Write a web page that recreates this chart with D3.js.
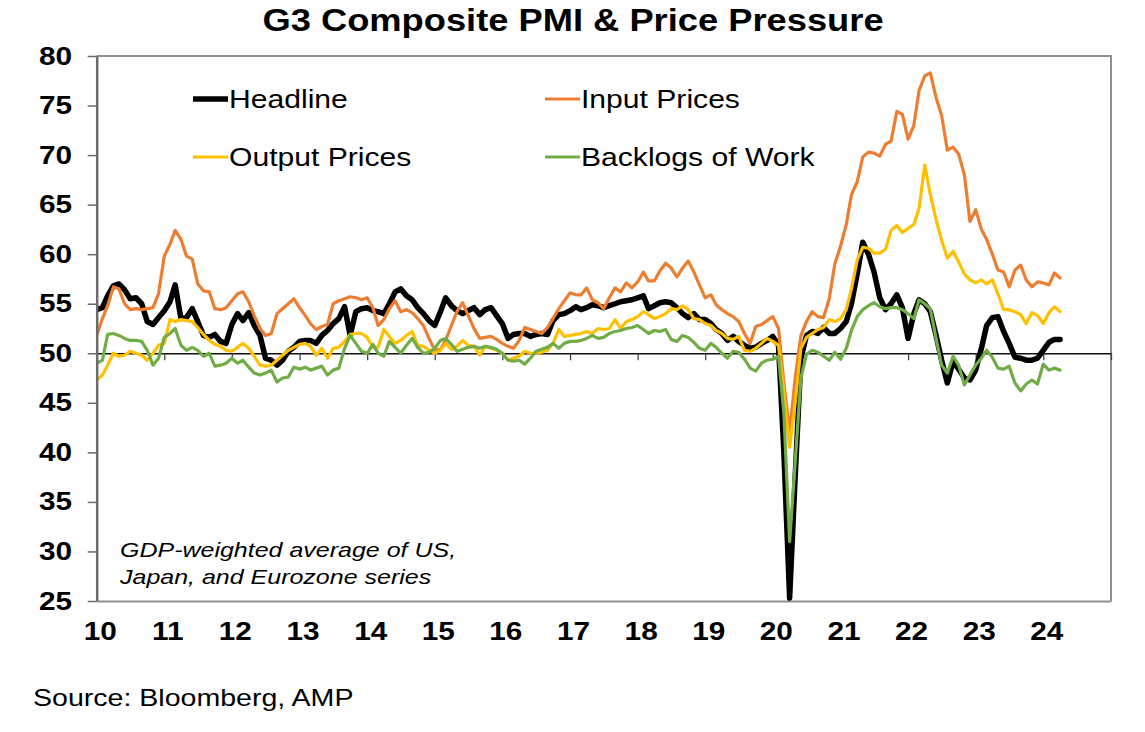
<html>
  <head>
    <meta charset="utf-8">
    <title>G3 Composite PMI &amp; Price Pressure</title>
    <script src="https://d3js.org/d3.v7.min.js" charset="utf-8"></script>
    <style>
      body { margin: 0; background: #fff; }
      text { font-family: "Liberation Sans", Arial, sans-serif; fill: #000; }
    </style>
  </head>
  <body>
    <script>
      // monthly readings, Jan 2010 - Apr 2024 (one row per year)
      var startYear = 2010;

      var headline = [
        54.4, 54.6, 55.8, 56.8, 57.0, 56.4, 55.5, 55.6, 55.0, 53.2, 52.9, 53.6,
        54.3, 55.2, 56.9, 53.5, 53.6, 54.5, 53.2, 51.8, 51.6, 51.9, 51.2, 51.0,
        52.9, 54.0, 53.3, 54.1, 52.8, 51.8, 49.5, 49.3, 48.8, 49.3, 50.2, 50.6,
        51.2, 51.3, 51.3, 51.0, 51.8, 52.3, 53.0, 53.5, 54.7, 51.8, 54.2, 54.5,
        54.6, 54.3, 54.2, 54.0, 55.0, 56.2, 56.5, 55.8, 55.4, 54.6, 54.0, 53.3,
        52.8, 54.2, 55.6, 54.8, 54.3, 54.0, 54.3, 54.6, 53.9, 54.4, 54.6, 53.8,
        53.0, 51.5, 51.9, 52.0, 52.0, 51.7, 51.9, 52.0, 51.9, 53.3, 53.9, 54.0,
        54.3, 54.7, 54.4, 54.6, 54.9, 54.8, 54.6, 54.8, 55.0, 55.2, 55.3, 55.4,
        55.6, 55.8, 54.5, 54.8, 55.1, 55.2, 55.1, 54.6, 54.0, 53.6, 54.0, 53.4,
        53.4, 53.0, 52.4, 52.0, 51.3, 51.7, 51.2, 50.8, 50.5, 50.6, 51.0, 51.3,
        51.7, 50.8, 40.0, 25.3, 37.5, 49.5, 51.8, 52.2, 52.0, 52.6, 52.0, 52.0,
        52.5, 53.2, 55.0, 58.0, 61.2, 60.0, 58.2, 55.6, 54.4, 55.0, 55.9, 54.6,
        51.5, 54.0, 55.4, 55.0, 54.2, 51.8, 49.3, 47.0, 49.2, 48.4, 47.5, 47.3,
        48.3, 50.5, 52.8, 53.6, 53.7, 52.2, 51.0, 49.6, 49.5, 49.3, 49.3, 49.5,
        50.3, 51.1, 51.4, 51.4
      ];

      var inputPrices = [
        51.8, 53.5, 54.8, 56.7, 56.5, 55.0, 54.4, 54.5, 54.4, 54.5, 54.6, 56.0,
        59.8, 61.0, 62.4, 61.5, 59.8, 59.5, 57.0, 56.3, 56.2, 54.5, 54.4, 54.6,
        55.3, 56.0, 56.2, 55.2, 53.8, 52.5, 51.8, 52.0, 54.0, 54.5, 55.0, 55.5,
        54.6, 53.8, 53.0, 52.4, 52.7, 52.9, 55.0, 55.3, 55.5, 55.7, 55.6, 55.4,
        55.6, 54.6, 52.8, 53.4, 54.5, 55.3, 54.2, 54.4, 54.1, 53.5, 52.8, 51.5,
        50.3, 50.4, 51.3, 52.8, 54.2, 55.1, 53.8, 52.5, 51.5, 51.6, 51.7, 51.4,
        51.0, 50.7, 50.5, 51.3, 52.6, 52.4, 52.2, 52.0, 52.6, 53.5, 54.5, 55.3,
        56.1, 55.9, 55.9, 56.6, 55.4, 55.1, 54.5, 55.6, 56.6, 56.2, 57.1, 56.6,
        57.2, 58.2, 57.3, 57.3, 58.3, 59.1, 58.6, 57.7, 58.6, 59.3, 58.2, 56.9,
        55.6, 55.9, 54.9, 54.4, 54.0, 53.7, 53.2, 52.0, 51.0, 52.7, 52.9, 53.3,
        53.7, 52.5, 47.0, 42.0, 47.5, 51.8, 53.2, 54.2, 53.7, 53.6, 55.5, 59.0,
        60.8, 63.0, 66.0, 67.3, 69.8, 70.3, 70.2, 69.9, 71.1, 71.4, 74.4, 74.1,
        71.6, 73.0, 76.5, 78.0, 78.3, 75.8, 74.0, 70.5, 70.8, 70.1, 68.0, 63.3,
        64.5, 62.5, 61.5, 60.0, 58.4, 58.2, 56.7, 58.4, 58.9, 57.4, 56.7, 57.2,
        57.1, 56.9, 58.1, 57.6
      ];

      var outputPrices = [
        47.3, 47.8, 48.8, 50.0, 49.7, 49.8, 50.2, 50.0, 49.8, 49.3, 50.0, 50.8,
        51.0, 53.4, 53.2, 53.4, 53.3, 53.2, 52.6, 51.9, 51.3, 50.9, 50.7, 50.3,
        50.2, 50.6, 51.0, 50.5, 49.7, 48.8, 48.7, 48.8, 49.3, 49.8, 50.3, 50.6,
        50.9, 51.0, 50.7, 49.8, 50.5, 49.5, 50.5, 50.6, 51.2, 51.9, 52.0, 52.0,
        51.6, 50.6, 50.6, 52.4, 51.7, 51.0, 51.3, 51.8, 52.2, 50.8, 50.7, 50.3,
        50.0, 50.3, 51.0, 50.4, 50.7, 51.3, 50.8, 50.7, 49.8, 50.7, 50.5, 50.3,
        50.0, 49.3, 49.5, 49.7, 50.2, 50.0, 50.0, 50.1, 50.3, 51.0, 52.4, 51.7,
        51.8, 51.9, 52.0, 52.2, 52.0, 52.5, 52.4, 52.5, 53.4, 52.5, 53.2, 53.4,
        53.7, 54.2, 53.9, 53.5, 53.7, 54.0, 54.5, 54.4, 54.8, 54.4, 53.5, 53.4,
        53.0, 52.8, 52.3, 52.0, 51.5, 51.4, 51.7, 50.3, 50.2, 50.5, 51.0, 51.5,
        51.2, 50.8, 46.0, 40.5, 45.0, 50.5, 51.6, 52.0, 52.4, 52.6, 53.4, 53.2,
        53.5, 54.4, 56.5, 59.4, 60.7, 60.6, 60.1, 60.1, 60.5, 62.4, 62.9, 62.2,
        62.6, 63.0, 64.6, 69.0, 66.0, 63.5, 61.4, 59.6, 60.3, 59.2, 58.0, 57.4,
        57.1, 57.4, 57.0, 57.4, 56.0, 54.4, 54.4, 54.2, 53.9, 53.0, 54.1, 53.8,
        53.0, 54.1, 54.7, 54.2
      ];

      var backlogs = [
        49.0, 49.3, 51.9, 52.0, 51.8, 51.5, 51.3, 51.3, 51.2, 50.3, 48.8, 49.5,
        51.6, 52.0, 52.5, 50.8, 50.3, 50.6, 50.3, 49.7, 50.0, 48.7, 48.8, 49.0,
        49.5, 49.0, 49.3, 48.6, 48.0, 47.8, 48.0, 48.3, 47.1, 47.5, 47.6, 48.6,
        48.4, 48.6, 48.3, 48.5, 48.7, 47.8, 48.3, 48.5, 50.5, 51.8, 51.0, 50.2,
        50.0, 50.9, 50.0, 49.7, 51.2, 50.6, 50.0, 50.8, 51.5, 50.6, 50.0, 50.1,
        50.5, 51.3, 51.5, 50.9, 50.2, 50.4, 50.6, 50.7, 50.5, 50.7, 50.6, 50.4,
        50.0, 49.3, 49.2, 49.3, 48.9, 49.5, 50.2, 50.4, 50.6, 51.0, 50.5, 51.0,
        51.2, 51.2, 51.3, 51.5, 51.8, 51.5, 51.6, 52.0, 52.2, 52.3, 52.5, 52.6,
        52.8, 52.4, 52.0, 52.3, 52.2, 52.4, 51.4, 51.2, 51.8, 51.6, 51.1, 50.5,
        50.3, 51.0, 50.6, 50.0, 49.5, 50.2, 50.1, 49.4, 48.5, 48.2, 49.0, 49.3,
        49.4, 49.7, 44.0, 31.0, 39.0, 47.5, 49.9, 50.3, 50.1, 49.7, 49.3, 50.1,
        49.4, 50.5, 52.3, 53.7, 54.4, 54.8, 55.1, 54.7, 54.5, 54.6, 54.6, 54.4,
        54.0, 53.5, 55.4, 55.0, 54.5, 51.5, 48.8, 48.0, 49.7, 48.8, 46.8, 47.8,
        48.8, 49.5, 50.3, 49.6, 48.5, 48.4, 48.7, 47.0, 46.2, 46.9, 47.3, 46.9,
        48.9, 48.3, 48.5, 48.3
      ];

      var yearLabels = ["10", "11", "12", "13", "14", "15", "16", "17", "18", "19", "20", "21", "22", "23", "24"];
      var yTickValues = [25, 30, 35, 40, 45, 50, 55, 60, 65, 70, 75, 80];

      var width = 1145,
          height = 732;
      var plotLeft = 96.7, plotRight = 1111, plotTop = 56, plotBottom = 601;
      var sx = 1.19; // the original image text is stretched horizontally

      var x = d3.scaleTime()
        .domain([new Date(startYear, 0, 1), new Date(startYear + 15, 0, 1)])
        .range([plotLeft, plotRight]);

      var y = d3.scaleLinear()
        .domain([25, 80])
        .range([plotBottom, plotTop]);

      var svg = d3.select("body").append("svg")
        .attr("width", width)
        .attr("height", height);

      // stretched text helper
      var stext = function(g, px, py, str) {
        return g.append("text")
          .attr("transform", "translate(" + px + "," + py + ") scale(" + sx + ",1)")
          .text(str);
      };

      // title
      stext(svg, 573, 31, "G3 Composite PMI & Price Pressure")
        .attr("text-anchor", "middle")
        .attr("font-size", 30.5)
        .attr("font-weight", "bold");

      // plot frame (top and right)
      svg.append("path")
        .attr("d", "M" + plotLeft + "," + plotTop + "H" + plotRight + "V" + plotBottom)
        .attr("fill", "none")
        .attr("stroke", "#8f8f8f")
        .attr("stroke-width", 2);

      // bottom axis
      var xAxis = d3.axisBottom(x)
        .tickValues(yearLabels.map(function(d, i) { return new Date(startYear + i, 0, 1); }))
        .tickSize(0)
        .tickFormat(function(d, i) { return yearLabels[i]; });

      var gx = svg.append("g")
        .attr("transform", "translate(0," + plotBottom + ")")
        .call(xAxis);
      gx.select(".domain").attr("stroke", "#8f8f8f").attr("stroke-width", 2);
      gx.selectAll("text")
        .attr("y", 39)
        .attr("dy", 0)
        .attr("x", 3 / sx)
        .attr("transform", "scale(" + sx + ",1)")
        .attr("font-size", 25)
        .attr("font-weight", "bold")
        .attr("font-family", "Liberation Sans, Arial, sans-serif")
        .attr("fill", "#000");

      // 50 reference line with year ticks
      var midAxis = d3.axisBottom(x)
        .tickValues(d3.range(1, 16).map(function(i) { return new Date(startYear + i, 0, 1); }))
        .tickSize(7)
        .tickSizeOuter(0)
        .tickFormat("");
      var gm = svg.append("g")
        .attr("transform", "translate(0," + y(50) + ")")
        .call(midAxis);
      gm.select(".domain").attr("stroke", "#111").attr("stroke-width", 1.3);
      gm.selectAll(".tick line").attr("stroke", "#444").attr("stroke-width", 1.3);

      // clip to plot area
      svg.append("clipPath").attr("id", "plot")
        .append("rect")
        .attr("x", plotLeft).attr("y", plotTop)
        .attr("width", plotRight - plotLeft).attr("height", plotBottom - plotTop);

      var series = [
        { name: "Headline", values: headline, color: "#000000", width: 5.5 },
        { name: "Input Prices", values: inputPrices, color: "#ED7D31", width: 3.2 },
        { name: "Output Prices", values: outputPrices, color: "#FFC000", width: 3.2 },
        { name: "Backlogs of Work", values: backlogs, color: "#70AD47", width: 3.2 }
      ];

      var line = d3.line()
        .x(function(d, i) { return x(new Date(startYear, i, 1)); })
        .y(function(d) { return y(d); });

      svg.append("g")
        .attr("clip-path", "url(#plot)")
        .selectAll("path")
        .data(series)
        .enter()
        .append("path")
        .attr("d", function(d) { return line(d.values); })
        .attr("fill", "none")
        .attr("stroke", function(d) { return d.color; })
        .attr("stroke-width", function(d) { return d.width; })
        .attr("stroke-linejoin", "round")
        .attr("stroke-linecap", "round");

      // left axis (drawn over the lines)
      var yAxis = d3.axisLeft(y)
        .tickValues(yTickValues)
        .tickSize(9)
        .tickSizeOuter(0)
        .tickFormat(d3.format("d"));

      var gy = svg.append("g")
        .attr("transform", "translate(" + plotLeft + ",0)")
        .call(yAxis);
      gy.select(".domain").attr("stroke", "#6b6b6b").attr("stroke-width", 2.5);
      gy.selectAll(".tick line").attr("stroke", "#6b6b6b").attr("stroke-width", 1.5);
      gy.selectAll("text")
        .attr("x", -24.7 / sx)
        .attr("transform", "scale(" + sx + ",1)")
        .attr("font-size", 25)
        .attr("font-weight", "bold")
        .attr("font-family", "Liberation Sans, Arial, sans-serif")
        .attr("fill", "#000");

      // legend
      var legendPos = [[193, 99], [545, 99], [193, 157], [545, 157]];
      series.forEach(function(s, i) {
        var p = legendPos[i];
        svg.append("line")
          .attr("x1", p[0]).attr("x2", p[0] + 35)
          .attr("y1", p[1]).attr("y2", p[1])
          .attr("stroke", s.color)
          .attr("stroke-width", s.width);
        stext(svg, p[0] + 36, p[1] + 9, s.name)
          .attr("font-size", 25.3);
      });

      // note
      stext(svg, 120, 557, "GDP-weighted average of US,")
        .attr("font-size", 21)
        .attr("font-style", "italic");
      stext(svg, 120, 584, "Japan, and Eurozone series")
        .attr("font-size", 21)
        .attr("font-style", "italic");

      // source
      stext(svg, 33, 706, "Source: Bloomberg, AMP")
        .attr("font-size", 24);
    </script>
  </body>
</html>
